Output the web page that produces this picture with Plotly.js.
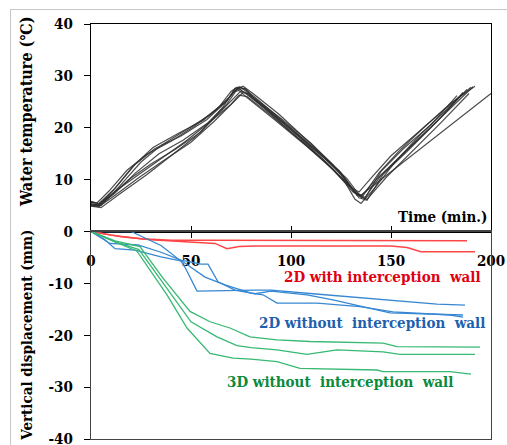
<!DOCTYPE html>
<html><head><meta charset="utf-8">
<script src="https://cdn.plot.ly/plotly-3.0.1.min.js"></script>
<style>
html,body{margin:0;padding:0;background:#fff;}
#wrap{position:relative;width:507px;height:445px;overflow:hidden;}
#chart{width:507px;height:445px;}
#frame{position:absolute;left:10px;top:9px;width:520px;height:460px;border-left:1px solid #c8c8c8;border-top:1px solid #c8c8c8;pointer-events:none;}
</style></head>
<body><div id="wrap"><div id="chart"></div><div id="frame"></div></div>
<script>
// ---- Water temperature (top panel), time in min ----
const tempT1 = [0,4,12,22,32,45,58,68,72,75,80,95,110,125,133,137,145,160,175,188];
const tempV1 = [5.6,5.4,8.3,12.9,16.0,18.4,21.6,25.2,27.6,27.8,26.2,21.8,17.0,11.3,7.1,6.6,10.8,16.4,22.0,27.4];
const tempT2 = [0,3,10,20,30,42,55,66,71,74,78,92,108,122,131,135,143,155,170,185,191];
const tempV2 = [5.0,4.9,7.0,10.3,13.0,15.8,19.2,24.0,26.9,27.2,25.8,21.5,16.4,11.6,7.6,6.8,10.2,14.6,20.1,25.8,27.9];
const tempT3 = [0,5,14,25,35,48,60,70,74,77,82,98,112,126,134,138,146,158,172,186];
const tempV3 = [5.4,5.0,8.6,13.4,16.6,19.8,22.6,26.2,27.9,27.4,25.9,20.6,15.9,10.6,6.5,6.0,11.0,15.4,20.8,26.8];
const tempT4 = [0,4,12,24,36,50,62,72,76,79,85,100,115,128,135,138,148,160,175,189];
const tempV4 = [5.2,4.8,7.0,10.4,13.6,17.2,21.4,25.3,26.8,26.5,24.6,19.8,14.8,10.2,6.6,6.2,10.6,15.2,21.0,26.6];
const tempT5 = [0,3,9,18,28,40,52,64,70,73,77,90,104,118,130,134,140,150,162,176,190];
const tempV5 = [5.8,5.5,7.8,11.8,14.9,17.4,20.4,24.0,27.0,27.8,26.7,22.8,18.2,13.2,8.5,7.6,10.3,14.6,18.6,23.3,27.8];
const tempT6 = [0,5,15,28,40,52,63,71,75,78,86,100,115,127,132,135,142,152,165,178,186];
const tempV6 = [4.9,4.6,7.4,11.0,14.6,18.2,22.4,25.6,27.1,26.6,24.0,19.2,14.2,9.5,6.2,5.4,8.4,13.4,18.8,23.6,26.6];
const tempT7 = [0,4,11,21,31,44,56,67,72,76,81,94,108,121,132,136,144,154,166,180,192];
const tempV7 = [5.3,5.1,7.9,12.6,16.2,19.0,21.4,24.9,27.3,28.0,26.6,22.6,17.6,12.9,7.4,6.9,11.3,15.5,19.9,24.8,28.0];
const tempT8 = [0,4,13,24,36,48,60,70,74,78,90,105,120,131,135,150,165,180,200];
const tempV8 = [5.7,5.3,8.0,11.0,14.2,17.6,21.3,24.5,26.3,26.0,22.4,17.5,12.4,8.0,7.0,11.5,16.0,20.6,26.6];
const tempT9 = [0,4,12,22,34,46,58,68,73,77,82,96,110,124,133,137,145,156,170,183];
const tempV9 = [5.1,5.0,7.4,11.2,15.0,17.6,20.8,24.6,27.4,27.6,25.5,21.0,16.3,11.8,7.0,6.4,11.6,15.9,20.6,26.2];

// ---- Vertical displacement (bottom panel), mm ----
// 2D with interception wall (red)
const redT1 = [0,10,25,40,60,100,150,188];
const redV1 = [0,-0.7,-1.4,-1.7,-1.7,-1.7,-1.7,-1.8];
const redT2 = [0,15,30,50,62,68,74,82,100,150,158,165,192];
const redV2 = [0,-1.0,-1.6,-2.0,-2.3,-3.3,-2.9,-2.8,-2.8,-2.8,-3.1,-3.9,-3.9];
// 2D without interception wall (blue)
const blueT1 = [0,20,35,45,47,53,82,90,111,146,173,187];
const blueV1 = [0,0,-2.7,-5.7,-6.9,-11.5,-11.3,-11.3,-12.0,-13.2,-14.0,-14.2];
const blueT2 = [0,7,12,22,35,45.5,57,67,80,86,93,113,134.5,151,179.5,186];
const blueV2 = [0,-1.6,-3.3,-3.6,-4.9,-5.7,-8.8,-10.3,-11.9,-12.2,-13.8,-13.8,-14.5,-15.5,-16.1,-16.5];
const blueT3 = [0,9.5,23.5,35,45,55,58.5,63.5,72,82,90,108,121,138,149.5,186];
const blueV3 = [0,-2.3,-2.6,-4.0,-5.5,-6.3,-6.3,-9.7,-11.3,-12.0,-11.5,-12.2,-13.2,-14.7,-15.7,-16.1];
// 3D without interception wall (green)
const greenT1 = [0,12,24.5,36,49.5,59.5,69.5,79.5,93,109.5,146,153,194.5];
const greenV1 = [0,-1.8,-2.9,-9.0,-15.4,-17.4,-18.6,-20.3,-20.9,-21.2,-21.5,-22.2,-22.3];
const greenT2 = [0,12,24,38,50,63,73,80,93,108,123,146,154.5,192];
const greenV2 = [0,-2.0,-3.5,-10.9,-17.4,-20.3,-22.0,-22.4,-22.8,-23.7,-22.8,-23.2,-23.7,-23.7];
const greenT3 = [0,13,23,38,48,59.5,71,80,93,104.5,143,146,179.5,190];
const greenV3 = [0,-2.2,-3.8,-12.2,-18.6,-23.5,-24.4,-24.6,-25.1,-26.4,-26.7,-27.0,-27.0,-27.5];

// ---- axis ticks ----
const xTicks = [0,50,100,150,200];
const xTickText = ['0','50','100','150','200'];
const tempTicks = [10,20,30,40];
const tempTickText = ['10','20','30','40'];
const dispTicks = [0,-10,-20,-30,-40];
const dispTickText = ['0','-10','-20','-30','-40'];

const labels = {
  red: '2D with interception\u00a0\u00a0wall',
  blue: '2D without\u00a0\u00a0interception\u00a0\u00a0wall',
  green: '3D without\u00a0\u00a0interception\u00a0\u00a0wall',
  time: 'Time (min.)',
  yTop: 'Water temperature (\u2103)',
  yBot: 'Vertical displacement (mm)'
};

const traces = [];
const tempSets = [[tempT1,tempV1],[tempT2,tempV2],[tempT3,tempV3],[tempT4,tempV4],[tempT5,tempV5],[tempT6,tempV6],[tempT7,tempV7],[tempT8,tempV8],[tempT9,tempV9]];
tempSets.forEach(s => traces.push({x:s[0], y:s[1], xaxis:'x', yaxis:'y', mode:'lines', line:{color:'rgba(45,45,45,0.85)', width:1.2}}));
[[redT1,redV1],[redT2,redV2]].forEach(s => traces.push({x:s[0], y:s[1], xaxis:'x2', yaxis:'y2', mode:'lines', line:{color:'rgb(255,70,70)', width:1.5}}));
[[blueT1,blueV1],[blueT2,blueV2],[blueT3,blueV3]].forEach(s => traces.push({x:s[0], y:s[1], xaxis:'x2', yaxis:'y2', mode:'lines', line:{color:'rgb(55,135,210)', width:1.3}}));
[[greenT1,greenV1],[greenT2,greenV2],[greenT3,greenV3]].forEach(s => traces.push({x:s[0], y:s[1], xaxis:'x2', yaxis:'y2', mode:'lines', line:{color:'rgb(55,185,115)', width:1.3}}));

const fam = 'DejaVu Serif Condensed, DejaVu Serif';
const tickFont = {family:fam, size:15, color:'#000', weight:'bold'};

const layout = {
  width:507, height:445,
  font:{family:fam},
  margin:{l:91, r:16, t:24, b:6, pad:0},
  paper_bgcolor:'#fff', plot_bgcolor:'rgba(0,0,0,0)',
  showlegend:false,
  xaxis:{domain:[0,1], range:[0,200], anchor:'y', side:'bottom', tickvals:xTicks, ticktext:xTickText,
    ticks:'inside', ticklen:6, tickcolor:'#000', showline:true, linecolor:'#000', linewidth:1.2, mirror:true,
    showgrid:false, zeroline:false, tickfont:tickFont, ticklabelstandoff:15},
  xaxis2:{domain:[0,1], range:[0,200], anchor:'y2', side:'top', tickvals:xTicks,
    ticks:'inside', ticklen:6, tickcolor:'#000', showticklabels:false, showline:true, linecolor:'#444', linewidth:1.2, mirror:true,
    showgrid:false, zeroline:false},
  yaxis:{domain:[0.5,1], range:[0,40], anchor:'x', tickvals:tempTicks, ticktext:tempTickText,
    ticks:'outside', ticklen:6, tickcolor:'#000', showline:true, linecolor:'#000', linewidth:1.2, mirror:true,
    showgrid:false, zeroline:false, tickfont:tickFont, ticklabelstandoff:8},
  yaxis2:{domain:[0,0.5], range:[-40,0], anchor:'x2', tickvals:dispTicks, ticktext:dispTickText,
    ticks:'outside', ticklen:6, tickcolor:'#000', showline:true, linecolor:'#444', linewidth:1.2, mirror:true,
    showgrid:false, zeroline:false, tickfont:tickFont, ticklabelstandoff:8, ticklabeloverflow:'allow'},
  annotations:[
    {xref:'x2', yref:'y2', x:196, y:-8.8, xanchor:'right', yanchor:'middle', showarrow:false, text:labels.red,
      font:{family:fam, size:15, color:'#e00010', weight:'bold'}},
    {xref:'x2', yref:'y2', x:198, y:-17.6, xanchor:'right', yanchor:'middle', showarrow:false, text:labels.blue,
      font:{family:fam, size:15, color:'#1e5fae', weight:'bold'}},
    {xref:'x2', yref:'y2', x:182, y:-29, xanchor:'right', yanchor:'middle', showarrow:false, text:labels.green,
      font:{family:fam, size:15, color:'#0b8a3c', weight:'bold'}},
    {xref:'x', yref:'y', x:199, y:0.6, xanchor:'right', yanchor:'bottom', showarrow:false, text:labels.time,
      font:{family:fam, size:15, color:'#000', weight:'bold'}},
    {xref:'paper', yref:'paper', x:-0.16, y:0.788, xanchor:'center', yanchor:'middle', textangle:-90, showarrow:false, text:labels.yTop,
      font:{family:fam, size:16, color:'#000', weight:'bold'}},
    {xref:'paper', yref:'paper', x:-0.16, y:0.508, xanchor:'center', yanchor:'top', textangle:-90, showarrow:false, text:labels.yBot,
      font:{family:fam, size:15, color:'#000', weight:'bold'}}
  ]
};

Plotly.newPlot('chart', traces, layout, {staticPlot:true, displayModeBar:false});
</script>
</body></html>
